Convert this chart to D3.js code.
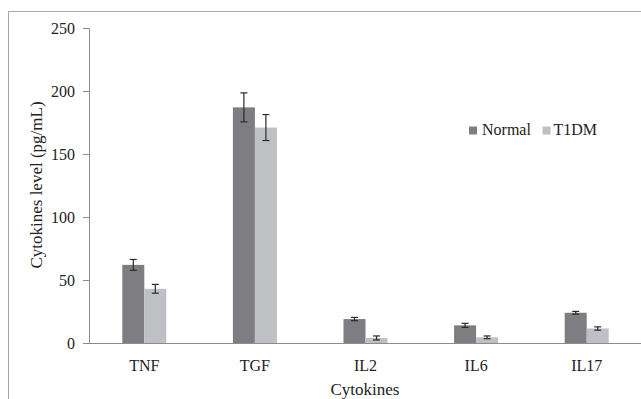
<!DOCTYPE html>
<html>
<head>
<meta charset="utf-8">
<script src="https://cdn.jsdelivr.net/npm/d3@7"></script>
<style>
  body { margin: 0; background: #fff; }
  svg { display: block; font-family: "Liberation Serif", "Times New Roman", serif; }
</style>
</head>
<body>
<svg class="canvas" width="641" height="399"></svg>
<script>
const categories = ["TNF", "TGF", "IL2", "IL6", "IL17"];
const seriesNames = ["Normal", "T1DM"];
const normal = [62, 187, 19, 14, 24];
const t1dm = [43, 171, 4, 4.5, 11.5];
const normalErr = [4.3, 11.5, 1.3, 1.6, 1.1];
const t1dmErr = [3.5, 10.3, 1.6, 1.1, 1.3];
const yTicks = [0, 50, 100, 150, 200, 250];

const colors = { Normal: "#7e7e82", T1DM: "#bfc0c4" };

const svg = d3.select(".canvas");
const margin = { top: 28, left: 89, bottom: 56 };
const width = 641;
const height = 399;

// outer frame (runs off the right and bottom edges like the original)
svg.append("rect")
  .attr("x", 8.5)
  .attr("y", 11.5)
  .attr("width", 700)
  .attr("height", 500)
  .attr("fill", "none")
  .attr("stroke", "#a6a6a6");

const y = d3.scaleLinear().domain([0, 250]).range([height - margin.bottom, margin.top]);
const x = d3.scaleBand()
  .domain(categories)
  .range([margin.left, margin.left + 553])
  .paddingInner(0.602)
  .paddingOuter(0.301);
const xSub = d3.scaleBand().domain(seriesNames).range([0, x.bandwidth()]);

const data = categories.map((c, i) => ({
  cat: c,
  values: [
    { s: "Normal", v: normal[i], e: normalErr[i] },
    { s: "T1DM", v: t1dm[i], e: t1dmErr[i] },
  ],
}));

// y axis
const yAxis = d3.axisLeft(y).tickValues(yTicks).tickSize(5).tickPadding(9);
const yAxisGroup = svg.append("g")
  .attr("transform", `translate(${margin.left},0)`)
  .call(yAxis);
yAxisGroup.select(".domain").attr("stroke", "#8c8c8c");
yAxisGroup.selectAll(".tick line").attr("stroke", "#8c8c8c").attr("x2", -6);
yAxisGroup.selectAll("text")
  .attr("font-size", 16)
  .attr("fill", "#222")
  .attr("font-family", "Liberation Serif");

// bars
const groups = svg.append("g").selectAll("g")
  .data(data)
  .enter()
  .append("g")
  .attr("transform", (d) => `translate(${x(d.cat)},0)`);

groups.selectAll("rect")
  .data((d) => d.values)
  .enter()
  .append("rect")
  .attr("x", (d) => xSub(d.s))
  .attr("width", xSub.bandwidth())
  .attr("y", (d) => y(d.v))
  .attr("height", (d) => y(0) - y(d.v))
  .attr("fill", (d) => colors[d.s]);

// error bars
const errs = groups.selectAll("g.err")
  .data((d) => d.values)
  .enter()
  .append("g")
  .attr("class", "err")
  .attr("stroke", "#2b2b2b")
  .attr("stroke-width", 1.2);

errs.append("line")
  .attr("x1", (d) => xSub(d.s) + xSub.bandwidth() / 2)
  .attr("x2", (d) => xSub(d.s) + xSub.bandwidth() / 2)
  .attr("y1", (d) => y(d.v + d.e))
  .attr("y2", (d) => y(d.v - d.e));
errs.selectAll("line.cap")
  .data((d) => [{ s: d.s, val: d.v + d.e }, { s: d.s, val: d.v - d.e }])
  .enter()
  .append("line")
  .attr("class", "cap")
  .attr("x1", (d) => xSub(d.s) + xSub.bandwidth() / 2 - 3.5)
  .attr("x2", (d) => xSub(d.s) + xSub.bandwidth() / 2 + 3.5)
  .attr("y1", (d) => y(d.val))
  .attr("y2", (d) => y(d.val));

// x axis
const xAxisGroup = svg.append("g")
  .attr("transform", `translate(0,${y(0)})`)
  .call(d3.axisBottom(x).tickSize(0).tickPadding(17));
xAxisGroup.select(".domain").attr("stroke", "#8c8c8c").attr("d", `M${margin.left - 6},0.5H${width}`);
xAxisGroup.selectAll("text")
  .attr("font-size", 16)
  .attr("fill", "#222")
  .attr("font-family", "Liberation Serif");

// axis titles
svg.append("text")
  .attr("x", 365)
  .attr("y", 395)
  .attr("text-anchor", "middle")
  .attr("font-size", 17)
  .attr("fill", "#222")
  .text("Cytokines");

svg.append("text")
  .attr("transform", `translate(42,${185}) rotate(-90)`)
  .attr("text-anchor", "middle")
  .attr("font-size", 17)
  .attr("fill", "#222")
  .text("Cytokines level (pg/mL)");

// legend
const legend = svg.append("g").attr("transform", "translate(469,126.5)");
const legendX = [0, 73.5];
seriesNames.forEach((s, i) => {
  const g = legend.append("g").attr("transform", `translate(${legendX[i]},0)`);
  g.append("rect").attr("width", 8).attr("height", 8).attr("fill", colors[s]);
  g.append("text")
    .attr("x", i === 0 ? 13 : 11)
    .attr("y", 8.5)
    .attr("font-size", 16)
    .attr("fill", "#222")
    .text(s);
});
</script>
</body>
</html>
